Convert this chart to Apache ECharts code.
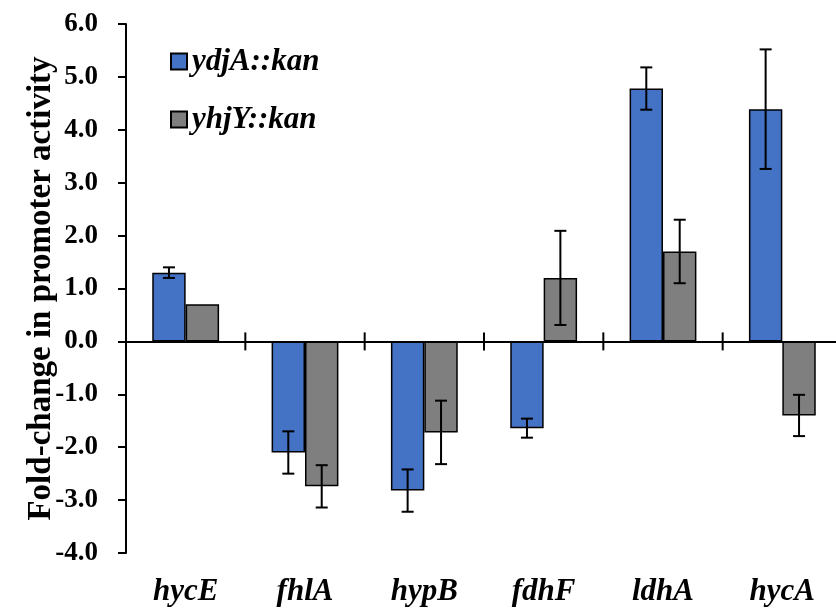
<!DOCTYPE html>
<html lang="en" style="height: 100%">
<head>
  <meta charset="utf-8">
</head>
<body style="height: 100%; margin: 0">
  <div id="container" style="width: 836px; height: 610px"></div>

  <script type="text/javascript" src="https://cdn.jsdelivr.net/npm/echarts@6.0.0/dist/echarts.min.js"></script>

  <script type="text/javascript">
    // genes on the category axis
    var genes = ['hycE', 'fhlA', 'hypB', 'fdhF', 'ldhA', 'hycA'];

    // fold-change values and error bars
    var ydjA = [1.3, -2.1, -2.82, -1.64, 4.78, 4.39];
    var ydjAErr = [0.1, 0.4, 0.4, 0.18, 0.4, 1.13];
    var yhjY = [0.7, -2.74, -1.72, 1.2, 1.7, -1.4];
    var yhjYErr = [0, 0.4, 0.6, 0.89, 0.6, 0.39];

    var seriesNames = ['ydjA::kan', 'yhjY::kan'];
    var yTicks = { min: -4, max: 6, step: 1 };

    var serif = "'Liberation Serif', 'Times New Roman', serif";
    var gapRatio = 0.44;

    var dom = document.getElementById('container');
    var myChart = echarts.init(dom, null, { renderer: 'canvas' });

    function errData(vals, errs, side) {
      return vals.map(function (v, i) {
        return [i, v, errs[i], side];
      });
    }

    function renderErr(params, api) {
      var err = api.value(2);
      if (!err) return;
      var idx = api.value(0);
      var val = api.value(1);
      var side = api.value(3);
      var band = api.size([1, 0])[0];
      var off = side * band * (1 - gapRatio) / 4;
      var hi = api.coord([idx, val + err]);
      var lo = api.coord([idx, val - err]);
      var x = hi[0] + off;
      var cap = 6;
      var st = { stroke: '#000', lineWidth: 2 };
      return {
        type: 'group',
        children: [
          { type: 'line', shape: { x1: x, y1: hi[1], x2: x, y2: lo[1] }, style: st },
          { type: 'line', shape: { x1: x - cap, y1: hi[1], x2: x + cap, y2: hi[1] }, style: st },
          { type: 'line', shape: { x1: x - cap, y1: lo[1], x2: x + cap, y2: lo[1] }, style: st }
        ]
      };
    }

    // tick marks crossing the zero line, between categories
    function renderZeroTick(params, api) {
      var idx = api.value(0);
      var band = api.size([1, 0])[0];
      var p = api.coord([idx, 0]);
      var x = p[0] - band / 2;
      return {
        type: 'line',
        shape: { x1: x, y1: p[1] - 9, x2: x, y2: p[1] + 9 },
        style: { stroke: '#000', lineWidth: 2 }
      };
    }

    var option = {
      backgroundColor: '#fff',
      animation: false,
      grid: {
        left: 126,
        right: -6,
        top: 24,
        bottom: 57,
        containLabel: false,
        outerBoundsMode: 'none'
      },
      legend: {
        orient: 'vertical',
        left: 170,
        top: 46,
        padding: 0,
        icon: 'rect',
        itemWidth: 16,
        itemHeight: 16,
        itemGap: 27,
        data: seriesNames,
        textStyle: {
          fontFamily: serif,
          fontWeight: 'bold',
          fontStyle: 'italic',
          fontSize: 31,
          lineHeight: 30,
          color: '#000'
        }
      },
      xAxis: [
        {
          type: 'category',
          data: genes,
          position: 'bottom',
          axisLine: { show: false, onZero: false },
          axisTick: { show: false },
          axisLabel: {
            margin: 23,
            fontFamily: serif,
            fontWeight: 'bold',
            fontStyle: 'italic',
            fontSize: 31,
            color: '#000'
          },
          splitLine: { show: false }
        },
        {
          type: 'category',
          data: genes,
          position: 'top',
          axisLine: { show: true, onZero: true, lineStyle: { color: '#000', width: 2 } },
          axisTick: { show: false },
          axisLabel: { show: false },
          splitLine: { show: false }
        }
      ],
      yAxis: {
        type: 'value',
        min: yTicks.min,
        max: yTicks.max,
        interval: yTicks.step,
        name: 'Fold-change in promoter activity',
        nameLocation: 'middle',
        nameGap: 68,
        nameMoveOverlap: false,
        nameTextStyle: {
          fontFamily: serif,
          fontWeight: 'bold',
          fontSize: 33,
          color: '#000'
        },
        axisLine: { show: true, onZero: false, lineStyle: { color: '#000', width: 2 } },
        axisTick: { show: true, length: 8, lineStyle: { color: '#000', width: 2 } },
        axisLabel: {
          margin: 28,
          fontFamily: serif,
          fontWeight: 'bold',
          fontSize: 27,
          color: '#000',
          formatter: function (v) { return v.toFixed(1); }
        },
        splitLine: { show: false }
      },
      series: [
        {
          name: seriesNames[0],
          type: 'bar',
          data: ydjA,
          barGap: '0%',
          barCategoryGap: (gapRatio * 100) + '%',
          itemStyle: { color: '#4472C4', borderColor: '#000', borderWidth: 1.5 }
        },
        {
          name: seriesNames[1],
          type: 'bar',
          data: yhjY,
          barGap: '0%',
          barCategoryGap: (gapRatio * 100) + '%',
          itemStyle: { color: '#7F7F7F', borderColor: '#000', borderWidth: 1.5 }
        },
        {
          type: 'custom',
          renderItem: renderErr,
          data: errData(ydjA, ydjAErr, -1),
          encode: { x: 0, y: 1 },
          z: 10
        },
        {
          type: 'custom',
          renderItem: renderErr,
          data: errData(yhjY, yhjYErr, 1),
          encode: { x: 0, y: 1 },
          z: 10
        },
        {
          type: 'custom',
          renderItem: renderZeroTick,
          data: genes.slice(1).map(function (g, i) { return [i + 1]; }),
          encode: { x: 0 },
          z: 12
        }
      ]
    };

    myChart.setOption(option);
    window.addEventListener('resize', myChart.resize);
  </script>
</body>
</html>
